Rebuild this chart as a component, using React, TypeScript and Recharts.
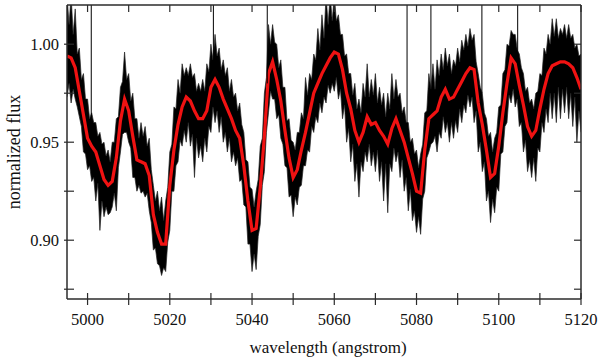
import { ComposedChart, Area, Line, XAxis, YAxis, ReferenceLine } from 'recharts';

// spectrum sampled every 0.5 angstrom from 4995 (noise band), smoothed curve every 1 angstrom
const START = 4995;

const redFlux = [
  0.994, 0.993, 0.988, 0.976, 0.964, 0.952, 0.948, 0.945, 0.938, 0.931,
  0.928, 0.93, 0.942, 0.961, 0.972, 0.966, 0.953, 0.941, 0.94, 0.939,
  0.933, 0.913, 0.904, 0.898, 0.898, 0.928, 0.946, 0.959, 0.968, 0.973,
  0.971, 0.966, 0.962, 0.962, 0.966, 0.978, 0.982, 0.978, 0.972, 0.967,
  0.962, 0.956, 0.952, 0.938, 0.92, 0.905, 0.906, 0.927, 0.953, 0.985,
  0.991, 0.982, 0.971, 0.956, 0.942, 0.932, 0.936, 0.946, 0.955, 0.965,
  0.975, 0.98, 0.985, 0.989, 0.993, 0.996, 0.995, 0.987, 0.975, 0.967,
  0.956, 0.95, 0.955, 0.963, 0.959, 0.96, 0.956, 0.953, 0.949, 0.957,
  0.962, 0.956, 0.95, 0.942, 0.934, 0.925, 0.924, 0.946, 0.962, 0.964,
  0.966, 0.973, 0.977, 0.972, 0.973, 0.977, 0.981, 0.985, 0.988, 0.987,
  0.97, 0.959, 0.946, 0.932, 0.934, 0.948, 0.965, 0.98, 0.993, 0.99,
  0.979, 0.969, 0.958, 0.953, 0.956, 0.967, 0.977, 0.985, 0.989, 0.99,
  0.991, 0.991, 0.99, 0.988, 0.983, 0.977,
];

// top edge of the noisy spectrum (x.0, x.5 pairs)
const upperFlux = [
  1.025, 1.01, 1.025, 1.005, 1.018, 0.995, 0.998, 0.982, 0.985, 0.972,
  0.972, 0.962, 0.965, 0.96, 0.96, 0.953, 0.955, 0.949, 0.95, 0.943,
  0.946, 0.94, 0.95, 0.95, 0.962, 0.963, 0.978, 0.981, 0.996, 0.982,
  0.985, 0.971, 0.975, 0.962, 0.962, 0.952, 0.96, 0.953, 0.958, 0.948,
  0.952, 0.936, 0.928, 0.92, 0.925, 0.915, 0.922, 0.91, 0.92, 0.927,
  0.945, 0.949, 0.968, 0.967, 0.982, 0.975, 0.99, 0.984, 0.988, 0.984,
  0.99, 0.983, 0.985, 0.976, 0.98, 0.976, 0.982, 0.976, 0.99, 0.986,
  1.0, 0.992, 1.005, 0.994, 0.998, 0.987, 0.992, 0.984, 0.988, 0.976,
  0.982, 0.973, 0.975, 0.966, 0.97, 0.959, 0.955, 0.941, 0.94, 0.927,
  0.926, 0.917, 0.925, 0.931, 0.948, 0.952, 0.975, 0.983, 1.01, 1.0,
  1.01, 1.001, 1.0, 0.988, 0.992, 0.978, 0.978, 0.961, 0.962, 0.951,
  0.95, 0.946, 0.955, 0.955, 0.965, 0.962, 0.983, 0.974, 0.985, 0.982,
  0.995, 0.992, 1.008, 0.997, 1.015, 1.003, 1.025, 1.01, 1.025, 1.012,
  1.025, 1.012, 1.015, 1.005, 1.005, 0.994, 0.995, 0.985, 0.985, 0.974,
  0.98, 0.967, 0.972, 0.965, 0.98, 0.973, 0.99, 0.973, 0.982, 0.974,
  0.985, 0.97, 0.978, 0.969, 0.975, 0.963, 0.975, 0.967, 0.985, 0.972,
  0.982, 0.973, 0.975, 0.965, 0.968, 0.96, 0.96, 0.95, 0.952, 0.944,
  0.946, 0.937, 0.944, 0.949, 0.965, 0.966, 0.985, 0.977, 0.99, 0.977,
  0.992, 0.984, 0.995, 0.987, 0.998, 0.989, 0.995, 0.985, 0.992, 0.989,
  0.998, 0.991, 1.002, 0.997, 1.005, 0.999, 1.008, 1.002, 1.005, 0.991,
  0.985, 0.978, 0.975, 0.965, 0.962, 0.953, 0.955, 0.945, 0.952, 0.955,
  0.968, 0.969, 0.985, 0.987, 1.0, 0.999, 1.007, 1.005, 1.005, 0.997,
  0.995, 0.988, 0.985, 0.976, 0.978, 0.97, 0.972, 0.967, 0.975, 0.976,
  0.985, 0.984, 0.998, 0.995, 1.005, 1.0, 1.013, 1.004, 1.013, 1.003,
  1.008, 1.005, 1.01, 1.003, 1.01, 1.003, 1.005, 0.998, 1.0, 0.994,
  0.995,
];

// bottom edge of the noisy spectrum (x.0, x.5 pairs)
const lowerFlux = [
  0.973, 0.98, 0.97, 0.977, 0.972, 0.968, 0.963, 0.958, 0.945, 0.944,
  0.936, 0.938, 0.93, 0.932, 0.92, 0.929, 0.905, 0.92, 0.912, 0.917,
  0.913, 0.914, 0.917, 0.924, 0.915, 0.937, 0.945, 0.954, 0.955, 0.955,
  0.95, 0.947, 0.932, 0.932, 0.925, 0.928, 0.924, 0.925, 0.922, 0.924,
  0.915, 0.909, 0.895, 0.896, 0.888, 0.887, 0.882, 0.886, 0.884, 0.899,
  0.905, 0.925, 0.925, 0.938, 0.94, 0.951, 0.948, 0.956, 0.95, 0.96,
  0.948, 0.954, 0.932, 0.952, 0.942, 0.948, 0.94, 0.952, 0.945, 0.958,
  0.955, 0.968, 0.96, 0.966, 0.955, 0.963, 0.95, 0.955, 0.945, 0.952,
  0.94, 0.945, 0.938, 0.942, 0.93, 0.931, 0.918, 0.917, 0.898, 0.898,
  0.884, 0.893, 0.885, 0.902, 0.908, 0.928, 0.935, 0.955, 0.965, 0.976,
  0.972, 0.972, 0.962, 0.964, 0.952, 0.949, 0.938, 0.937, 0.922, 0.923,
  0.912, 0.922, 0.918, 0.927, 0.928, 0.938, 0.938, 0.946, 0.945, 0.958,
  0.955, 0.963, 0.96, 0.97, 0.965, 0.973, 0.97, 0.979, 0.975, 0.98,
  0.976, 0.983, 0.972, 0.977, 0.962, 0.969, 0.95, 0.957, 0.94, 0.949,
  0.93, 0.939, 0.922, 0.94, 0.935, 0.945, 0.94, 0.949, 0.938, 0.945,
  0.935, 0.946, 0.93, 0.94, 0.92, 0.939, 0.914, 0.939, 0.935, 0.947,
  0.94, 0.945, 0.932, 0.941, 0.925, 0.932, 0.915, 0.926, 0.91, 0.915,
  0.904, 0.912, 0.903, 0.921, 0.925, 0.942, 0.945, 0.949, 0.95, 0.953,
  0.945, 0.955, 0.952, 0.963, 0.955, 0.96, 0.95, 0.96, 0.952, 0.961,
  0.955, 0.967, 0.96, 0.969, 0.965, 0.974, 0.968, 0.973, 0.96, 0.966,
  0.945, 0.95, 0.935, 0.94, 0.92, 0.925, 0.909, 0.921, 0.914, 0.927,
  0.925, 0.944, 0.945, 0.958, 0.96, 0.974, 0.97, 0.977, 0.968, 0.972,
  0.958, 0.96, 0.945, 0.951, 0.935, 0.941, 0.932, 0.942, 0.93, 0.947,
  0.945, 0.96, 0.955, 0.967, 0.96, 0.975, 0.962, 0.975, 0.96, 0.978,
  0.962, 0.977, 0.965, 0.978, 0.962, 0.975, 0.958, 0.973, 0.95, 0.966,
  0.955,
];

// narrow spikes that run off the top of the frame
const spikeWl = [5000.9, 5030.6, 5043.7, 5077.7, 5083.5, 5095.9, 5104.6];
const spikeBase = [0.96, 0.99, 0.98, 0.955, 0.975, 0.975, 0.995];

const xTicks = [5000, 5010, 5020, 5030, 5040, 5050, 5060, 5070, 5080, 5090, 5100, 5110, 5120];
const yTicks = [0.875, 0.9, 0.925, 0.95, 0.975, 1.0];

const data = upperFlux.map((hi, i) => ({
  wl: START + i * 0.5,
  band: [lowerFlux[i], hi],
  red: i % 2 === 0 ? redFlux[i / 2] : null,
}));

const FONT = "'Liberation Serif', 'Times New Roman', 'DejaVu Serif', serif";
const AX = '#2b2b2b';
const txt = { fontFamily: FONT, fill: '#111' };

const isMajorY = (v: number) => Math.abs(v * 20 - Math.round(v * 20)) < 1e-6;

const BottomTick = ({ x, y, payload }: any) => {
  const v = payload.value;
  return (
    <g>
      <line x1={x} x2={x} y1={y - 6} y2={y + 6} stroke={AX} strokeWidth={1.2} />
      {v % 20 === 0 && (
        <text x={x} y={y + 26} textAnchor="middle" fontSize={16.5} style={txt}>
          {v}
        </text>
      )}
    </g>
  );
};

const TopTick = ({ x, y }: any) => (
  <line x1={x} x2={x} y1={y} y2={y + 7} stroke={AX} strokeWidth={1.2} />
);

const LeftTick = ({ x, y, payload }: any) => {
  const v = payload.value;
  return (
    <g>
      <line x1={x - 3} x2={x + 7} y1={y} y2={y} stroke={AX} strokeWidth={1.2} />
      {isMajorY(v) && (
        <text x={x - 8} y={y + 6} textAnchor="end" fontSize={16.5} style={txt}>
          {v.toFixed(2)}
        </text>
      )}
    </g>
  );
};

const RightTick = ({ x, y }: any) => (
  <line x1={x - 7} x2={x} y1={y} y2={y} stroke={AX} strokeWidth={1.2} />
);

const YTitle = ({ viewBox }: any) => {
  const cx = viewBox.x + 20;
  const cy = viewBox.y + viewBox.height / 2;
  return (
    <text x={cx} y={cy} transform={`rotate(-90, ${cx}, ${cy})`} textAnchor="middle" fontSize={18} style={txt}>
      normalized flux
    </text>
  );
};

const XTitle = ({ viewBox }: any) => {
  const cx = viewBox.x + viewBox.width / 2 + 4;
  const cy = viewBox.y + 54;
  return (
    <text x={cx} y={cy} textAnchor="middle" fontSize={17} style={txt}>
      wavelength (angstrom)
    </text>
  );
};

export default function App() {
  return (
    <div style={{ position: 'absolute', left: 0, top: 0, width: 600, height: 361, background: '#fff', fontFamily: FONT }}>
      <ComposedChart width={600} height={361} data={data} margin={{ top: 0, right: 0, bottom: 0, left: 0 }}>
        <XAxis
          xAxisId="b"
          dataKey="wl"
          type="number"
          orientation="bottom"
          domain={[4995, 5120]}
          allowDataOverflow
          ticks={xTicks}
          interval={0}
          height={62}
          tickSize={0}
          tickMargin={0}
          tickLine={false}
          tick={<BottomTick />}
          axisLine={{ stroke: AX, strokeWidth: 1.5 }}
          label={<XTitle />}
        />
        <XAxis
          xAxisId="t"
          dataKey="wl"
          type="number"
          orientation="top"
          domain={[4995, 5120]}
          allowDataOverflow
          ticks={xTicks}
          interval={0}
          height={5}
          tickSize={0}
          tickMargin={0}
          tickLine={false}
          tick={<TopTick />}
          axisLine={{ stroke: AX, strokeWidth: 1.5 }}
        />
        <YAxis
          yAxisId="l"
          type="number"
          domain={[0.87, 1.02]}
          allowDataOverflow
          ticks={yTicks}
          interval={0}
          width={67}
          tickSize={0}
          tickMargin={0}
          tickLine={false}
          tick={<LeftTick />}
          axisLine={{ stroke: AX, strokeWidth: 1.5 }}
          label={<YTitle />}
        />
        <YAxis
          yAxisId="r"
          orientation="right"
          type="number"
          domain={[0.87, 1.02]}
          allowDataOverflow
          ticks={yTicks}
          interval={0}
          width={19}
          tickSize={0}
          tickMargin={0}
          tickLine={false}
          tick={<RightTick />}
          axisLine={{ stroke: AX, strokeWidth: 1.5 }}
        />
        <Area
          xAxisId="b"
          yAxisId="l"
          dataKey="band"
          type="linear"
          fill="#000"
          fillOpacity={1}
          stroke="#222"
          strokeWidth={0.7}
          dot={false}
          activeDot={false}
          isAnimationActive={false}
        />
        <Line
          xAxisId="b"
          yAxisId="l"
          dataKey="red"
          type="linear"
          stroke="#f01212"
          strokeWidth={3.2}
          dot={false}
          activeDot={false}
          connectNulls
          isAnimationActive={false}
        />
        {spikeWl.map((w, i) => (
          <ReferenceLine
            key={w}
            xAxisId="b"
            yAxisId="l"
            segment={[{ x: w, y: spikeBase[i] }, { x: w, y: 1.02 }]}
            stroke="#000"
            strokeWidth={1}
            ifOverflow="hidden"
          />
        ))}
      </ComposedChart>
    </div>
  );
}
